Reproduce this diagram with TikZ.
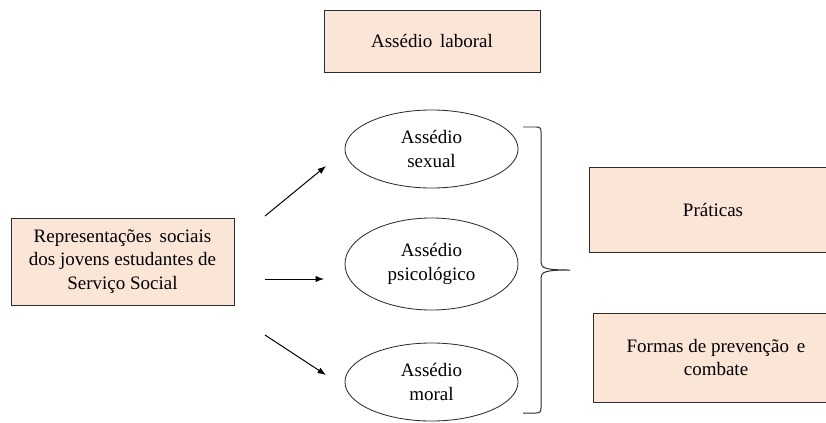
\documentclass[tikz,border=0pt]{standalone}
\usepackage{fontspec}
\setmainfont{Liberation Serif}
\usepackage{tikz}
\usetikzlibrary{shapes.geometric, arrows.meta}
\definecolor{peach}{RGB}{251, 229, 214}
\definecolor{edgegray}{RGB}{45, 45, 45}

\begin{document}
\begin{tikzpicture}[x=0.025cm, y=-0.025cm,
    font=\rmfamily\fontsize{13.5}{16.7}\selectfont,
    box/.style={draw=edgegray, line width=0.6pt, fill=peach, align=center, inner sep=2pt},
    oval/.style={ellipse, draw=edgegray, line width=0.6pt, align=center, inner sep=0pt,
                 minimum width=4.325cm},
    arr/.style={-{Latex[length=6pt, width=4.5pt]}, line width=0.7pt}]
    \useasboundingbox (0,0) rectangle (826,422);

    % Boxes
    \node[box, minimum width=5.4cm, minimum height=1.55cm] (laboral) at (432,41) {Assédio\, laboral};
    \node[box, minimum width=5.575cm, minimum height=2.175cm] (repres) at (122.5,261.5)
        {Representações\, sociais\\dos jovens estudantes de\\Serviço Social};
    \node[box, minimum width=6.2cm, minimum height=2.125cm] (praticas) at (713,209.5) {Práticas};
    \node[box, minimum width=6.15cm, minimum height=2.225cm] (formas) at (716,357.5)
        {Formas de prevenção\, e\\combate};

    % Types of harassment
    \node[oval, minimum height=1.95cm] (sexual) at (431.5,149) {Assédio\\sexual};
    \node[oval, minimum height=2.3cm] (psico) at (431.5,264) {Assédio\\psicológico};
    \node[oval, minimum height=1.95cm] (moral) at (431.5,382) {Assédio\\moral};

    % Arrows
    \coordinate (s1) at (265,216);  \coordinate (e1) at (326,166);
    \coordinate (s2) at (265,279);  \coordinate (e2) at (324,279);
    \coordinate (s3) at (265,335);  \coordinate (e3) at (326,375);
    \draw[arr] (s1) -- (e1);
    \draw[arr] (s2) -- (e2);
    \draw[arr] (s3) -- (e3);

    % Brace
    \draw[edgegray, line width=0.7pt] (523,127) -- (536,127)
        .. controls (540,127) and (541,128) .. (541,132) -- (541,262)
        .. controls (541,268) and (545,270) .. (570,270)
        .. controls (545,270) and (541,272) .. (541,278) -- (541,408)
        .. controls (541,412) and (540,413) .. (536,413) -- (523,413);
\end{tikzpicture}
\end{document}
